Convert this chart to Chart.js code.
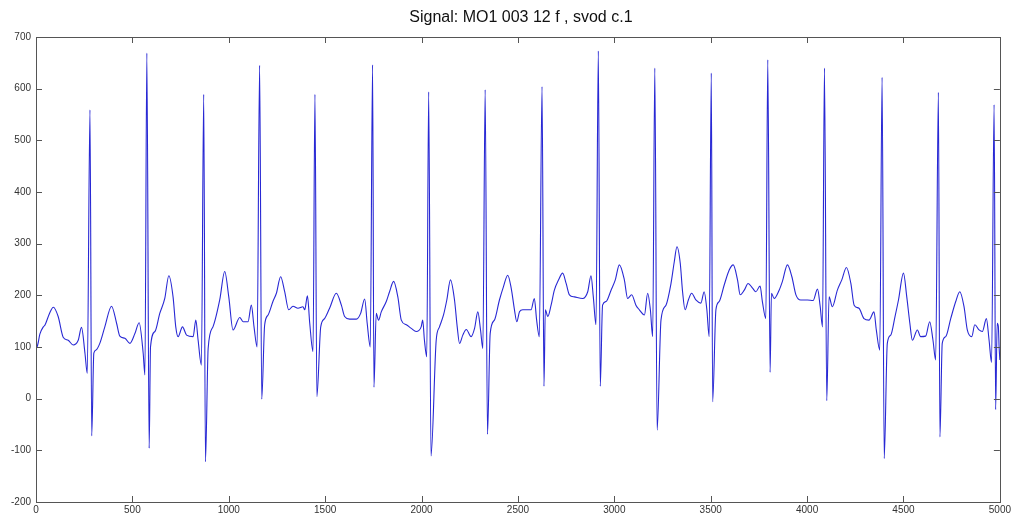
<!DOCTYPE html>
<html>
<head>
<meta charset="utf-8">
<script src="https://cdn.jsdelivr.net/npm/chart.js@4.4.0/dist/chart.umd.min.js"></script>
<style>
    html, body { margin: 0; background: #fff; }
    #wrap { width: 1013px; height: 516px; }
</style>
</head>
<body>
<div id="wrap"><canvas id="signalChart"></canvas></div>
<script>
// sample index / amplitude pairs of lead 1
const sampleIdx = [
    0, 5, 20, 38, 46, 70, 90, 115, 141, 167, 193, 219, 236, 254, 266, 280, 289, 300, 311,
    331, 357, 392, 418, 435, 461, 487, 513, 535, 556, 565, 575, 587, 594,
    617, 642, 668, 689, 711, 725, 737, 760, 781, 815, 829, 841, 858, 870, 879, 893,
    918, 953, 979, 1000, 1022, 1057, 1074, 1100, 1117, 1131, 1147, 1160, 1171, 1186,
    1204, 1229, 1247, 1269, 1290, 1311, 1333, 1359, 1385, 1394, 1408, 1420, 1437, 1447, 1457, 1477,
    1497, 1523, 1558, 1584, 1601, 1627, 1662, 1684, 1705, 1718, 1734, 1746, 1753, 1765,
    1777, 1791, 1817, 1834, 1855, 1877, 1895, 1921, 1947, 1972, 1998, 2006, 2015, 2027, 2037, 2049, 2076,
    2093, 2114, 2131, 2150, 2171, 2185, 2197, 2214, 2232, 2257, 2275, 2292, 2306, 2318, 2330, 2342, 2356,
    2378, 2404, 2425, 2447, 2465, 2482, 2494, 2508, 2525, 2551, 2568, 2585, 2597, 2611, 2625, 2635, 2642,
    2655, 2672, 2689, 2711, 2732, 2750, 2767, 2793, 2836, 2862, 2879, 2891, 2905, 2917, 2927, 2939,
    2957, 2983, 3005, 3026, 3052, 3069, 3090, 3112, 3130, 3156, 3173, 3187, 3199, 3210, 3222, 3242,
    3268, 3294, 3311, 3325, 3342, 3354, 3367, 3384, 3401, 3423, 3449, 3466, 3480, 3492, 3503, 3510, 3527,
    3544, 3570, 3596, 3617, 3639, 3653, 3674, 3694, 3717, 3734, 3756, 3768, 3786, 3796, 3808, 3815,
    3829, 3855, 3872, 3898, 3921, 3942, 3967, 4002, 4031, 4054, 4068, 4080, 4090, 4102, 4114,
    4131, 4157, 4180, 4204, 4227, 4244, 4269, 4295, 4321, 4347, 4359, 4377, 4389, 4400, 4416,
    4434, 4456, 4474, 4500, 4517, 4533, 4546, 4572, 4589, 4615, 4636, 4653, 4667, 4681, 4689, 4701,
    4719, 4745, 4771, 4792, 4814, 4831, 4854, 4870, 4892, 4909, 4930, 4944, 4957, 4970, 4978, 4986, 4992, 4996, 5000
];
const amplitude = [
    130, 100, 125, 139, 142, 165, 177, 159, 119, 113, 104, 113, 138, 88, 49, 559, -72, 88, 94,
    107, 139, 179, 146, 121, 117, 107, 126, 147, 88, 46, 669, -96, 100,
    130, 165, 194, 238, 197, 139, 120, 139, 123, 120, 152, 113, 65, 589, -122, 97,
    139, 191, 246, 197, 133, 157, 149, 149, 181, 139, 100, 645, -1, 142,
    162, 188, 204, 236, 207, 172, 179, 175, 178, 172, 199, 146, 91, 589, 4, 139,
    155, 175, 204, 181, 159, 154, 154, 165, 193, 146, 100, 646, 22, 165,
    152, 168, 188, 207, 227, 197, 152, 143, 136, 130, 139, 152, 113, 81, 594, -111, 113,
    139, 162, 191, 230, 191, 139, 107, 123, 134, 120, 136, 168, 133, 97, 598, -69, 126,
    152, 191, 217, 239, 214, 172, 149, 168, 172, 172, 172, 194, 152, 120, 604, 24, 172,
    159, 181, 210, 230, 243, 223, 201, 197, 194, 207, 238, 197, 143, 673, 24, 181,
    188, 210, 230, 259, 230, 194, 201, 181, 172, 162, 204, 172, 120, 640, -61, 152,
    181, 223, 265, 294, 262, 207, 172, 191, 204, 191, 185, 207, 172, 120, 630, -6, 172,
    188, 220, 249, 259, 230, 201, 210, 223, 214, 207, 218, 188, 155, 656, 51, 204,
    194, 210, 227, 259, 236, 201, 191, 191, 190, 212, 178, 139, 640, -4, 197,
    178, 210, 230, 254, 223, 181, 175, 155, 152, 168, 133, 94, 622, -116, 107,
    123, 159, 191, 243, 197, 146, 113, 133, 120, 121, 149, 113, 75, 593, -74, 107,
    120, 155, 188, 207, 178, 133, 120, 143, 133, 130, 155, 113, 70, 569, -21, 146, 140, 100, 75
];
const xTickValues = [0, 500, 1000, 1500, 2000, 2500, 3000, 3500, 4000, 4500, 5000];
const yTickValues = [-200, -100, 0, 100, 200, 300, 400, 500, 600, 700];
const titleText = "Signal: MO1 003 12 f , svod c.1";

const fontFamily = "'Liberation Sans', Arial, sans-serif";
const tickFont = { family: fontFamily, size: 10 };

// box round the plot, inward ticks on all four sides, title over the plot centre
const frameTicks = {
    id: "frameTicks",
    afterDraw(chart) {
        const { ctx, chartArea: a, scales } = chart;
        const len = 6;
        ctx.save();
        ctx.strokeStyle = "#555";
        ctx.lineWidth = 1;
        ctx.beginPath();
        scales.x.ticks.forEach((t) => {
            const px = Math.round(scales.x.getPixelForValue(t.value)) + 0.5;
            ctx.moveTo(px, a.bottom);
            ctx.lineTo(px, a.bottom - len);
            ctx.moveTo(px, a.top);
            ctx.lineTo(px, a.top + len);
        });
        scales.y.ticks.forEach((t) => {
            const py = Math.round(scales.y.getPixelForValue(t.value)) + 0.5;
            ctx.moveTo(a.left, py);
            ctx.lineTo(a.left + len, py);
            ctx.moveTo(a.right, py);
            ctx.lineTo(a.right - len, py);
        });
        ctx.stroke();
        ctx.strokeRect(
            Math.round(a.left) + 0.5,
            Math.round(a.top) + 0.5,
            Math.round(a.right - a.left),
            Math.round(a.bottom - a.top)
        );

        ctx.fillStyle = "#111";
        ctx.font = "16px " + fontFamily;
        ctx.textAlign = "center";
        ctx.textBaseline = "middle";
        ctx.fillText(titleText, (a.left + a.right) / 2 + 3, 18);
        ctx.restore();
    },
};

new Chart(document.getElementById("signalChart"), {
    type: "line",
    data: {
        datasets: [
            {
                data: sampleIdx.map((s, i) => ({ x: s, y: amplitude[i] })),
                borderColor: "#2828d4",
                borderWidth: 1.1,
                pointRadius: 0,
                cubicInterpolationMode: "monotone",
            },
        ],
    },
    options: {
        responsive: true,
        maintainAspectRatio: false,
        animation: false,
        layout: { padding: { left: 0, right: 12, top: 37, bottom: 0 } },
        plugins: {
            legend: { display: false },
            tooltip: { enabled: false },
            title: { display: false },
        },
        scales: {
            x: {
                type: "linear",
                min: 0,
                max: 5000,
                afterBuildTicks: (scale) => {
                    scale.ticks = xTickValues.map((v) => ({ value: v }));
                },
                afterFit: (scale) => {
                    scale.height = 14;
                },
                grid: { display: false, drawTicks: false },
                border: { display: false },
                ticks: {
                    font: tickFont,
                    color: "#333",
                    padding: 2,
                    maxRotation: 0,
                    callback: (v) => String(v),
                },
            },
            y: {
                min: -200,
                max: 700,
                afterBuildTicks: (scale) => {
                    scale.ticks = yTickValues.map((v) => ({ value: v }));
                },
                afterFit: (scale) => {
                    scale.width = 36;
                },
                grid: { display: false, drawTicks: false },
                border: { display: false },
                ticks: {
                    font: tickFont,
                    color: "#333",
                    padding: 5,
                    callback: (v) => String(v),
                },
            },
        },
    },
    plugins: [frameTicks],
});
</script>
</body>
</html>
